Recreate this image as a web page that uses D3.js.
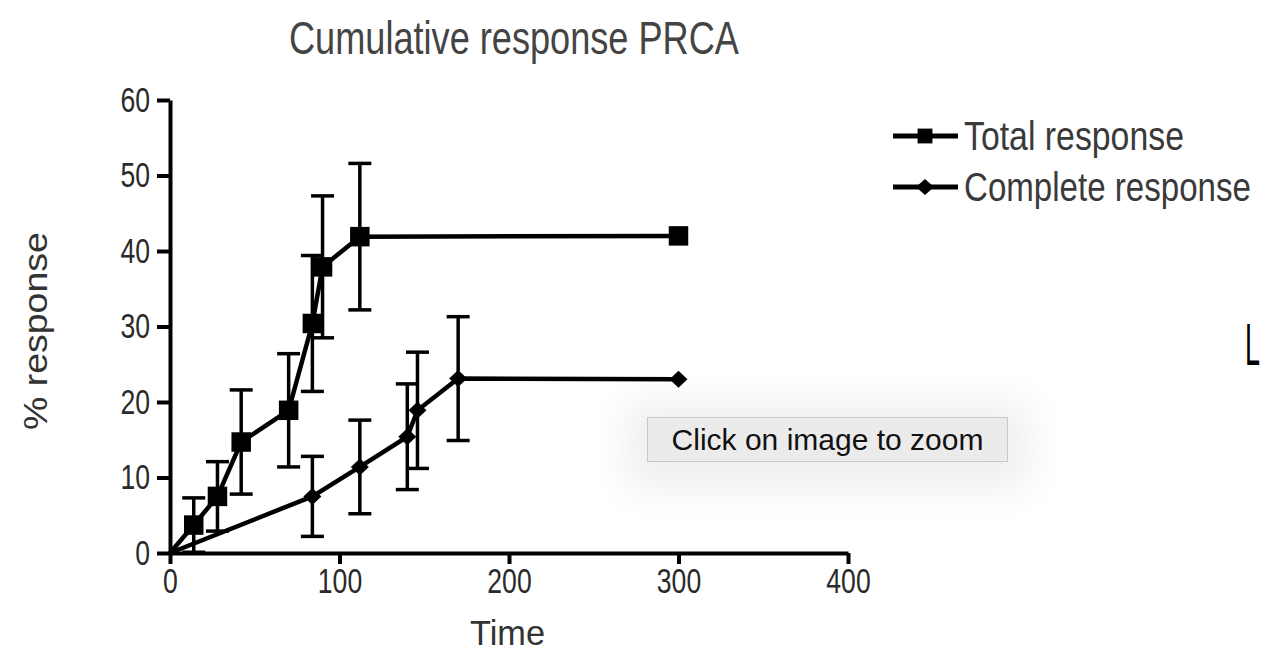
<!DOCTYPE html>
<html>
<head>
<meta charset="utf-8">
<style>
  body { margin: 0; background: #fff; }
  #container { position: relative; width: 1261px; height: 670px; overflow: hidden; }
  #tip {
    position: absolute; left: 647px; top: 417px; width: 359px; height: 43px;
    background: #ebebeb; border: 1px solid #c8c8c8;
    box-shadow: 0 6px 40px 20px rgba(0,0,0,0.07);
    font-family: "Liberation Sans", Arial, sans-serif; font-size: 30px; color: #111;
    line-height: 43px; text-align: center;
  }
</style>
</head>
<body>
<div id="container"></div>
<script src="https://cdn.jsdelivr.net/npm/d3@7"></script>
<script>
// values
var totalTime = [0, 14, 28, 42, 70, 84, 90, 112, 300];
var totalPct  = [0, 3.7, 7.5, 14.7, 18.9, 30.4, 37.9, 41.9, 42];
var totalErr  = [0, 3.6, 4.6, 6.9, 7.5, 9.0, 9.4, 9.7, 0];

var completeTime = [0, 84, 112, 140, 146, 170, 300];
var completePct  = [0, 7.5, 11.4, 15.4, 18.9, 23.1, 23];
var completeErr  = [0, 5.3, 6.2, 7.0, 7.7, 8.2, 0];

var xTicks = [0, 100, 200, 300, 400];
var yTicks = [0, 10, 20, 30, 40, 50, 60];
var seriesNames = ["Total response", "Complete response"];

var W = 1261, H = 670;
var FONT = "'Liberation Sans', Arial, sans-serif";
var svg = d3.select("#container").append("svg")
  .attr("width", W).attr("height", H);
svg.append("rect").attr("width", W).attr("height", H).attr("fill", "#fff");

var x = d3.scaleLinear().domain([0, 400]).range([170, 848]);
var y = d3.scaleLinear().domain([0, 60]).range([553, 100]);

// condensed look: squeeze the text horizontally to a given width
function label(txt, pos, size, width, color, family) {
  var g = svg.append("g");
  var t = g.append("text")
    .attr("font-family", family || FONT).attr("font-size", size)
    .attr("fill", color)
    .text(txt);
  var sx = width / t.node().getComputedTextLength();
  g.attr("transform", pos + " scale(" + sx + ",1)");
  return t;
}

// title
label("Cumulative response PRCA", "translate(289,54)", 46, 450, "#444");

// axes
var gx = svg.append("g").attr("transform", "translate(0," + y(0) + ")")
  .call(d3.axisBottom(x).tickValues(xTicks).tickSize(11).tickSizeOuter(0).tickPadding(4));
var gy = svg.append("g").attr("transform", "translate(" + x(0) + ",0)")
  .call(d3.axisLeft(y).tickValues(yTicks).tickSize(13).tickSizeOuter(0).tickPadding(7));
[gx, gy].forEach(function(g) {
  g.select(".domain").attr("stroke", "#000").attr("stroke-width", 4);
  g.selectAll(".tick line").attr("stroke", "#000").attr("stroke-width", 4);
  g.selectAll(".tick text")
    .attr("font-family", FONT).attr("font-size", 35).attr("fill", "#2a2a2a")
    .attr("transform", "scale(0.76,1)");
});
gy.selectAll(".tick text").attr("x", -20 / 0.76);

// axis titles
label("Time", "translate(470,645)", 35, 75, "#333");
label("% response", "translate(47,430) rotate(-90)", 34, 198, "#333");

function drawSeries(times, pcts, errs, marker) {
  var pts = times.map(function(t, i) { return {t: t, p: pcts[i], e: errs[i]}; });
  var g = svg.append("g");
  // error bars
  pts.filter(function(d) { return d.e > 0; }).forEach(function(d) {
    var cx = x(d.t);
    g.append("line").attr("x1", cx).attr("x2", cx)
      .attr("y1", y(d.p - d.e)).attr("y2", y(d.p + d.e))
      .attr("stroke", "#000").attr("stroke-width", 3.5);
    [d.p - d.e, d.p + d.e].forEach(function(v) {
      g.append("line").attr("x1", cx - 11.5).attr("x2", cx + 11.5)
        .attr("y1", y(v)).attr("y2", y(v))
        .attr("stroke", "#000").attr("stroke-width", 3.5);
    });
  });
  g.append("path").datum(pts)
    .attr("fill", "none").attr("stroke", "#000").attr("stroke-width", 4.5)
    .attr("d", d3.line().x(function(d) { return x(d.t); }).y(function(d) { return y(d.p); }));
  g.selectAll(".m").data(pts.slice(1)).enter().append("path")
    .attr("transform", function(d) { return "translate(" + x(d.t) + "," + y(d.p) + ")"; })
    .attr("d", marker)
    .attr("fill", "#000");
}

var squareM = d3.symbol().type(d3.symbolSquare).size(380)();
var diamondM = "M0,-8.5L9,0L0,8.5L-9,0Z";

drawSeries(totalTime, totalPct, totalErr, squareM);
drawSeries(completeTime, completePct, completeErr, diamondM);

// legend
var legendW = [220, 287];
seriesNames.forEach(function(name, i) {
  var base = 150 + i * 51;
  var ly = base - 14;
  svg.append("line").attr("x1", 893).attr("x2", 958)
    .attr("y1", ly).attr("y2", ly).attr("stroke", "#000").attr("stroke-width", 5);
  svg.append("path")
    .attr("transform", "translate(925," + ly + ")")
    .attr("d", i === 0 ? d3.symbol().type(d3.symbolSquare).size(220)() : "M0,-8L9,0L0,8L-9,0Z")
    .attr("fill", "#000");
  label(name, "translate(964," + base + ")", 40, legendW[i], "#3a3a3a");
});

// partial glyph at the right edge of the page
label("L", "translate(1245,365)", 60, 15, "#000", "'Liberation Sans', sans-serif");

d3.select("#container").append("div").attr("id", "tip").text("Click on image to zoom");
</script>
</body>
</html>
